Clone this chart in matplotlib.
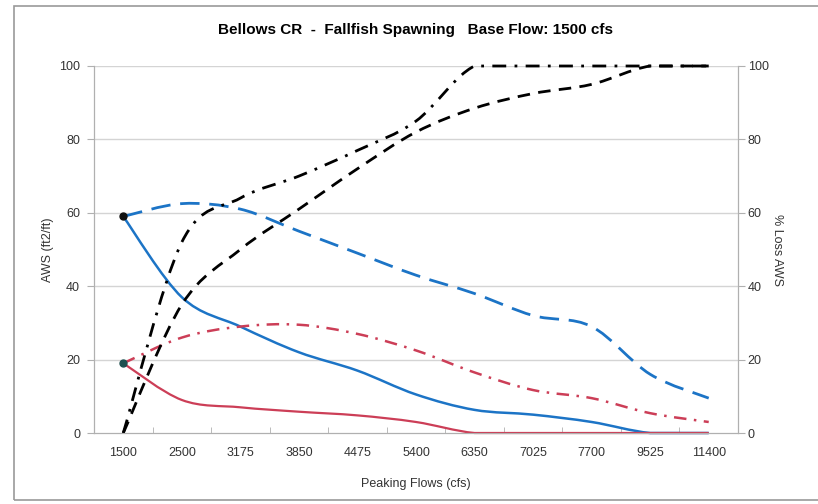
import numpy as np
import matplotlib.pyplot as plt
from matplotlib.path import Path
from matplotlib.patches import PathPatch, Rectangle

plt.rcParams['font.family'] = ['Liberation Sans', 'DejaVu Sans']

# Données
flows = ['1500', '2500', '3175', '3850', '4475', '5400', '6350', '7025', '7700', '9525', '11400']
aws_peak_blue = [59, 37, 29, 22, 17, 10.5, 6.3, 5, 3, 0, 0]
aws_base_blue = [59, 62.5, 61, 55, 49, 43, 38, 32, 29, 16, 9.5]
aws_peak_red = [19, 9, 7, 5.8, 4.8, 3, 0, 0, 0, 0, 0]
aws_base_red = [19, 26, 29, 29.5, 27, 22.5, 16.5, 11.7, 9.5, 5.4, 3]
loss_dashdot = [0, 52, 64, 70, 77, 85, 100, 100, 100, 100, 100]
loss_dashed = [0, 35, 50, 61, 72, 82, 88.5, 92.5, 95, 100, 100]


def courbe_lisse(ax, y, **kw):
    # courbe lissée façon Excel (Bezier de Catmull-Rom entre les points)
    x = np.arange(len(y), dtype=float)
    y = np.asarray(y, dtype=float)
    pts = np.column_stack([x, y])
    verts = [pts[0]]
    codes = [Path.MOVETO]
    n = len(pts)
    for i in range(n - 1):
        p0 = pts[max(i - 1, 0)]
        p1 = pts[i]
        p2 = pts[i + 1]
        p3 = pts[min(i + 2, n - 1)]
        c1 = p1 + (p2 - p0) / 6
        c2 = p2 - (p3 - p1) / 6
        c1[1] = np.clip(c1[1], 0, 100)
        c2[1] = np.clip(c2[1], 0, 100)
        verts += [c1, c2, p2]
        codes += [Path.CURVE4] * 3
    patch = PathPatch(Path(verts, codes), facecolor='none', capstyle='butt',
                      clip_on=False, **kw)
    ax.add_patch(patch)


fig = plt.figure(figsize=(8.18, 5.04), dpi=100)
fig.patches.append(Rectangle((14 / 818, 4 / 504), 1.0, 494 / 504, transform=fig.transFigure,
                             facecolor='none', edgecolor='#9a9a9a', lw=1.2))
ax = fig.add_axes([94 / 818, 71 / 504, 644 / 818, 367 / 504])
ax2 = ax.twinx()

ax.set_xlim(-0.5, len(flows) - 0.5)
ax.set_ylim(0, 100)
ax2.set_ylim(0, 100)

for v in [20, 40, 60, 80, 100]:
    ax.axhline(v, color='#d4d4d4', lw=1, zorder=0)

bleu = '#1c74c6'
rouge = '#cc3e57'
courbe_lisse(ax, aws_base_blue, edgecolor=bleu, lw=2.0, linestyle=(0, (7, 3.5)), zorder=3)
courbe_lisse(ax, aws_peak_blue, edgecolor=bleu, lw=1.8, zorder=3)
courbe_lisse(ax, aws_base_red, edgecolor=rouge, lw=1.8, linestyle=(0, (5, 3, 1, 3)), zorder=3)
courbe_lisse(ax, aws_peak_red, edgecolor=rouge, lw=1.6, zorder=3)
courbe_lisse(ax, loss_dashed, edgecolor='black', lw=2.0, linestyle=(0, (4.5, 3)), zorder=4)
courbe_lisse(ax, loss_dashdot, edgecolor='black', lw=2.0, linestyle=(0, (5, 3, 1, 3)), zorder=4)

ax.plot(0, aws_peak_blue[0], 'o', color='#111111', ms=5, zorder=5)
ax.plot(0, aws_peak_red[0], 'o', color='#1e5050', ms=5, zorder=5)

ax.set_xticks(range(len(flows)))
ax.set_xticklabels(flows)
ax.set_xticks(np.arange(0.5, len(flows) - 1, 1), minor=True)
ax.tick_params(axis='x', which='major', length=0, pad=10, labelsize=9, labelcolor='#333333')
ax.tick_params(axis='x', which='minor', length=4, direction='in', color='#b0b0b0')
ax.set_yticks([0, 20, 40, 60, 80, 100])
ax.tick_params(axis='y', length=5, color='#b0b0b0', labelsize=9, labelcolor='#333333', pad=5)
ax2.set_yticks([0, 20, 40, 60, 80, 100])
ax2.tick_params(axis='y', length=5, color='#b0b0b0', labelsize=9, labelcolor='#333333', pad=2)

for a in (ax, ax2):
    a.spines['top'].set_visible(False)
    for s in ('left', 'right', 'bottom'):
        a.spines[s].set_color('#b0b0b0')

ax.set_xlabel('Peaking Flows (cfs)', fontsize=9, color='#333333', labelpad=14)
ax.set_ylabel('AWS (ft2/ft)', fontsize=9, color='#333333', labelpad=4)
ax2.set_ylabel('% Loss AWS', fontsize=9, color='#333333', rotation=-90, labelpad=10)
ax.set_title('Bellows CR  -  Fallfish Spawning   Base Flow: 1500 cfs',
             fontsize=11, fontweight='bold', pad=23)

plt.savefig('out.png', dpi=100)
